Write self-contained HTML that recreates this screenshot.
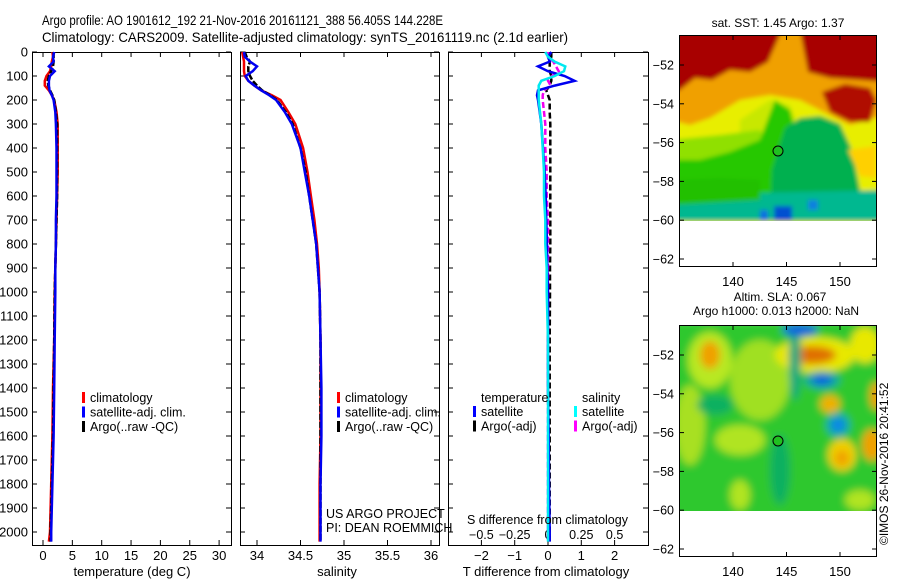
<!DOCTYPE html>
<html><head><meta charset="utf-8"><style>
html,body{margin:0;padding:0;background:#fff;}
svg{display:block;font-family:"Liberation Sans",sans-serif;}
</style></head><body>
<svg id="fig" width="900" height="580" viewBox="0 0 900 580" xmlns="http://www.w3.org/2000/svg">
<defs>
<filter id="blur1" x="-5%" y="-5%" width="110%" height="110%"><feGaussianBlur stdDeviation="2"/></filter>
<filter id="blur2" x="-5%" y="-5%" width="110%" height="110%"><feGaussianBlur stdDeviation="4"/></filter>
<clipPath id="clipM1"><rect x="680" y="36" width="196" height="185"/></clipPath>
<clipPath id="clipM2"><rect x="680" y="326" width="196" height="185"/></clipPath>
</defs>
<text x="42" y="25" font-size="14" textLength="401" lengthAdjust="spacingAndGlyphs">Argo profile: AO 1901612_192 21-Nov-2016 20161121_388 56.405S 144.228E</text>
<text x="42" y="42" font-size="14" textLength="526" lengthAdjust="spacingAndGlyphs">Climatology: CARS2009. Satellite-adjusted climatology: synTS_20161119.nc (2.1d earlier)</text>

<g id="p1"></g>
<g id="p2"></g>
<g id="p3"></g>

<g>
<text x="778" y="27" font-size="12" text-anchor="middle">sat. SST: 1.45 Argo: 1.37</text>
<g clip-path="url(#clipM1)" filter="url(#blur1)">
<rect x="670" y="30" width="216" height="200" fill="#e8ee00"/>
<polygon fill="#f0a000" points="670,30 886,30 886,115 850,125 820,110 800,100 770,95 740,100 710,118 690,125 670,120"/>
<polygon fill="#a80000" points="670,30 782,30 768,62 750,72 730,70 712,80 695,78 680,90 670,95"/>
<polygon fill="#a80000" points="800,30 886,30 886,82 860,80 830,78 808,72"/>
<polygon fill="#b01000" points="822,92 845,84 870,88 876,100 870,122 850,122 830,112"/>
<polygon fill="#c8e800" points="740,120 770,100 790,105 800,130 770,150 740,150"/>
<polygon fill="#90e000" points="670,140 720,135 760,130 770,150 740,165 670,165"/>
<polygon fill="#28c800" points="670,160 700,160 730,152 760,140 775,100 790,110 800,150 780,221 670,221"/>
<polygon fill="#00b050" points="785,128 800,118 820,116 840,124 852,150 862,200 866,221 770,221 772,170"/>
<polygon fill="#00b890" points="670,195 886,190 886,221 670,221"/>
<polygon fill="#20c000" points="670,180 720,178 760,180 760,200 670,205"/>
<polygon fill="#ffd000" points="848,150 876,146 876,178 860,176"/>
<rect x="774" y="206" width="18" height="15" fill="#0050d0"/>
<rect x="760" y="210" width="8" height="11" fill="#1070e0"/>
<rect x="808" y="200" width="10" height="10" fill="#1080e0"/>
</g>
<rect x="680" y="221" width="196" height="46" fill="#fff"/>
<circle cx="778" cy="151" r="5" fill="#20c020" stroke="#000" stroke-width="1"/>
<rect x="679.5" y="35.5" width="197" height="231" fill="none" stroke="#000"/>
</g>

<g>
<text x="780" y="301" font-size="12" text-anchor="middle">Altim. SLA: 0.067</text>
<text x="776" y="315" font-size="12" text-anchor="middle">Argo h1000: 0.013 h2000: NaN</text>
<g clip-path="url(#clipM2)" filter="url(#blur2)">
<rect x="670" y="320" width="216" height="200" fill="#2ec82e"/>
<ellipse cx="710" cy="360" rx="22" ry="28" fill="#b8e820"/>
<ellipse cx="760" cy="380" rx="30" ry="40" fill="#a0e020"/>
<ellipse cx="690" cy="425" rx="15" ry="40" fill="#a8e020"/>
<ellipse cx="740" cy="440" rx="25" ry="15" fill="#b0e420"/>
<ellipse cx="815" cy="355" rx="40" ry="18" fill="#e8e800"/>
<ellipse cx="865" cy="345" rx="15" ry="18" fill="#e8e800"/>
<ellipse cx="710" cy="355" rx="10" ry="14" fill="#f0a000"/>
<ellipse cx="812" cy="355" rx="24" ry="9" fill="#e07000"/>
<ellipse cx="795" cy="360" rx="6" ry="40" fill="#10a880"/>
<ellipse cx="800" cy="330" rx="18" ry="6" fill="#1060e0"/>
<ellipse cx="822" cy="380" rx="18" ry="9" fill="#10a8a0"/>
<ellipse cx="822" cy="380" rx="10" ry="5" fill="#1060e0"/>
<ellipse cx="830" cy="404" rx="10" ry="9" fill="#f0b000"/>
<ellipse cx="838" cy="425" rx="12" ry="12" fill="#10a8b0"/>
<ellipse cx="838" cy="425" rx="6" ry="6" fill="#1080f0"/>
<ellipse cx="842" cy="455" rx="14" ry="16" fill="#f0d000"/>
<ellipse cx="842" cy="458" rx="7" ry="8" fill="#f0a000"/>
<ellipse cx="872" cy="445" rx="10" ry="16" fill="#f0a000"/>
<ellipse cx="876" cy="396" rx="6" ry="14" fill="#f0a000"/>
<ellipse cx="715" cy="405" rx="18" ry="10" fill="#10b060"/>
<ellipse cx="780" cy="470" rx="10" ry="35" fill="#10b060"/>
<ellipse cx="740" cy="495" rx="10" ry="15" fill="#b0e420"/>
<ellipse cx="860" cy="500" rx="15" ry="10" fill="#b0e420"/>
</g>
<rect x="680" y="511" width="196" height="46" fill="#fff"/>
<circle cx="778" cy="441" r="5" fill="#20c020" stroke="#000" stroke-width="1"/>
<rect x="679.5" y="325.5" width="197" height="231" fill="none" stroke="#000"/>
</g>
<g id="maxes"></g>
<text transform="translate(888,545) rotate(-90)" font-size="12">©IMOS 26-Nov-2016 20:41:52</text>
</svg>
<script>
const depths = [0,20,40,60,80,100,120,140,160,180,200,250,300,400,500,600,700,800,900,1000,1200,1400,1600,1800,2000,2040];
const tempClim = [1.6,1.7,1.5,1.4,1.2,0.6,0.3,0.3,1.0,1.5,1.9,2.3,2.5,2.5,2.5,2.4,2.3,2.2,2.1,2.0,1.9,1.7,1.6,1.4,1.2,1.0];
const tempSat = [1.9,1.7,1.8,1.0,2.0,1.2,1.0,1.0,1.1,1.5,1.8,2.1,2.2,2.3,2.3,2.3,2.2,2.2,2.1,2.1,2.0,1.9,1.8,1.6,1.4,1.4];
const tempArgo = [1.8,1.8,1.8,1.7,1.4,1.0,0.8,0.9,1.2,1.6,1.9,2.2,2.4,2.4,2.4,2.4,2.3,2.2,2.1,2.0,1.9,1.8,1.7,1.5,1.3,1.3];
const salClim = [33.83,33.84,33.85,33.85,33.85,33.86,33.9,33.97,34.05,34.17,34.27,34.36,34.44,34.53,34.58,34.62,34.66,34.69,34.71,34.72,34.73,34.73,34.73,34.72,34.72,34.72];
const salSat = [33.85,33.86,33.92,34.0,33.95,33.87,33.9,33.97,34.05,34.14,34.22,34.32,34.4,34.5,34.55,34.6,34.64,34.68,34.7,34.72,34.73,34.74,34.74,34.73,34.73,34.73];
const salArgo = [33.86,33.88,33.92,33.9,33.9,33.92,33.95,34.0,34.06,34.15,34.23,34.33,34.41,34.5,34.56,34.6,34.64,34.68,34.7,34.72,34.73,34.73,34.73,34.73,34.73,34.73];
const dTempSat = [0.1,0,0.05,-0.3,0.0,0.5,0.8,0.2,-0.3,-0.33,-0.3,-0.25,-0.2,-0.15,-0.1,-0.07,-0.05,-0.03,-0.02,0,0,0,0.02,0.03,0.05,0.05];
const dTempArgo = [0.1,0.1,0.05,0.05,0.05,0.1,0.1,0.05,-0.05,0,0.05,0.05,0.07,0.07,0.07,0.07,0.07,0.07,0.06,0.06,0.05,0.05,0.05,0.05,0.05,0.05];
const dSalSat = [-0.02,0.0,0.05,0.13,0.12,0.05,-0.05,-0.07,-0.07,-0.07,-0.07,-0.06,-0.05,-0.04,-0.03,-0.03,-0.02,-0.02,-0.01,-0.01,0,0,0,0,0,0];
const dSalArgo = [0.0,0.0,0.04,0.06,0.08,0.03,0.0,0.02,-0.03,-0.04,-0.04,-0.03,-0.02,-0.02,-0.01,-0.01,0,0,0,0,0,0,0,0,0,0];
const depthTicks = [0,100,200,300,400,500,600,700,800,900,1000,1100,1200,1300,1400,1500,1600,1700,1800,1900,2000];
const tempTicks = [0,5,10,15,20,25,30];
const salTicks = [34,34.5,35,35.5,36];
const tdiffTicks = [-2,-1,0,1,2];
const sdiffTicks = [-0.5,-0.25,0,0.25,0.5];
const latTicks = [-52,-54,-56,-58,-60,-62];
const lonTicks = [140,145,150];

const NS='http://www.w3.org/2000/svg';
function mk(parent,tag,attrs,txt){const e=document.createElementNS(NS,tag);for(const k in attrs)e.setAttribute(k,attrs[k]);if(txt!==undefined)e.textContent=txt;parent.appendChild(e);return e;}
const yD = d => 52 + d*0.24;
const PT=52, PB=545;

function panel(g,x0,x1,xs,ticks,tickLbl){
  mk(g,'rect',{x:x0+0.5,y:PT+0.5,width:x1-x0,height:PB-PT,fill:'none',stroke:'#000','stroke-width':1});
  ticks.forEach(t=>{const x=xs(t);
    mk(g,'line',{x1:x,x2:x,y1:PT,y2:PT+5,stroke:'#000'});
    mk(g,'line',{x1:x,x2:x,y1:PB,y2:PB-5,stroke:'#000'});
    if(tickLbl){const l=mk(g,'text',{x:x,y:PB+15,'font-size':13,'text-anchor':'middle'},String(t));
      
      }
  });
  depthTicks.forEach(d=>{const y=yD(d);
    mk(g,'line',{x1:x0,x2:x0+5,y1:y,y2:y,stroke:'#000'});
    mk(g,'line',{x1:x1,x2:x1-5,y1:y,y2:y,stroke:'#000'});});
}
function line(g,xs,vals,color,name,dash){
  const pts=depths.map((d,i)=>xs(vals[i]).toFixed(1)+','+yD(d).toFixed(1)).join(' ');
  const p=mk(g,'polyline',{points:pts,fill:'none',stroke:color,'stroke-width':2.5});
  if(dash)p.setAttribute('stroke-dasharray',dash);
  
  
}
function legend(g,x,y,items){
  items.forEach((it,i)=>{
    mk(g,'rect',{x:x,y:y+i*14.5-10,width:3,height:11,fill:it[0]});
    const t=mk(g,'text',{x:x+8,y:y+i*14.5,'font-size':12.5},it[1]);
    
    
  });
}
const g1=document.getElementById('p1');
const xT = t => 43 + t*5.87;
panel(g1,32,231,xT,tempTicks,true);
depthTicks.forEach(d=>{const t=mk(g1,'text',{x:28,y:yD(d)+4.5,'font-size':13,'text-anchor':'end'},String(d));
  
  });
line(g1,xT,tempClim,'#f00000','temp-climatology-line');
line(g1,xT,tempArgo,'#000','temp-argo-line','6,2');
line(g1,xT,tempSat,'#0000f0','temp-satellite-line');
legend(g1,82,402,[['#f00','climatology'],['#00f','satellite-adj. clim.'],['#000','Argo(..raw -QC)']]);
const t1=mk(g1,'text',{x:132,y:576,'font-size':13,'text-anchor':'middle'},'temperature (deg C)');


const g2=document.getElementById('p2');
const xS = s => 257 + (s-34)*87;
panel(g2,240,439,xS,salTicks,true);
line(g2,xS,salClim,'#f00000','sal-climatology-line');
line(g2,xS,salArgo,'#000','sal-argo-line','6,2');
line(g2,xS,salSat,'#0000f0','sal-satellite-line');
legend(g2,337,402,[['#f00','climatology'],['#00f','satellite-adj. clim.'],['#000','Argo(..raw -QC)']]);
mk(g2,'text',{x:326,y:518,'font-size':12.5},'US ARGO PROJECT');
mk(g2,'text',{x:326,y:532,'font-size':12.5},'PI: DEAN ROEMMICH');
const t2=mk(g2,'text',{x:337,y:576,'font-size':13,'text-anchor':'middle'},'salinity');


const g3=document.getElementById('p3');
const xDT = v => 548 + v*33.3;
const xDS = v => 548 + v*133.2;
panel(g3,448,648,xDT,tdiffTicks,false);
tdiffTicks.forEach(t=>{const l=mk(g3,'text',{x:xDT(t),y:560,'font-size':13,'text-anchor':'middle'},String(t).replace('-','\u2212'));
  
  });
sdiffTicks.forEach(t=>{const l=mk(g3,'text',{x:xDS(t),y:539,'font-size':12.5,'text-anchor':'middle'},String(t).replace('-','\u2212'));
  
  });
line(g3,xDT,dTempArgo,'#000','tdiff-argo-line','6,3');
line(g3,xDS,dSalArgo,'#f000f0','sdiff-argo-line','6,3');
line(g3,xDT,dTempSat,'#0000f0','tdiff-satellite-line');
line(g3,xDS,dSalSat,'#00e8f0','sdiff-satellite-line');
mk(g3,'text',{x:481,y:402,'font-size':12.5},'temperature');
mk(g3,'text',{x:582,y:402,'font-size':12.5},'salinity');
legend(g3,473,416,[['#00f','satellite'],['#000','Argo(-adj)']]);
legend(g3,574,416,[['#0ff','satellite'],['#f0f','Argo(-adj)']]);
const t3=mk(g3,'text',{x:467,y:524,'font-size':12.5},'S difference from climatology');


const t4=mk(g3,'text',{x:546,y:576,'font-size':13,'text-anchor':'middle'},'T difference from climatology');


const gm=document.getElementById('maxes');
[0,290].forEach(off=>{
  const yL = lat => 65 + off + (-52-lat)*19.4;
  const xL = lon => 733 + (lon-140)*10.7;
  latTicks.forEach(l=>{const y=yL(l);
    mk(gm,'line',{x1:680,x2:684,y1:y,y2:y,stroke:'#000'});
    mk(gm,'line',{x1:876,x2:872,y1:y,y2:y,stroke:'#000'});
    const t=mk(gm,'text',{x:674,y:y+4.5,'font-size':12.5,'text-anchor':'end'},String(l).replace('-','\u2212'));
    
    });
  lonTicks.forEach(l=>{const x=xL(l);
    mk(gm,'line',{x1:x,x2:x,y1:36+off,y2:40+off,stroke:'#000'});
    mk(gm,'line',{x1:x,x2:x,y1:266+off,y2:262+off,stroke:'#000'});
    const t=mk(gm,'text',{x:x,y:286+off,'font-size':13,'text-anchor':'middle'},String(l));
    
    });
});
</script>
</body></html>
